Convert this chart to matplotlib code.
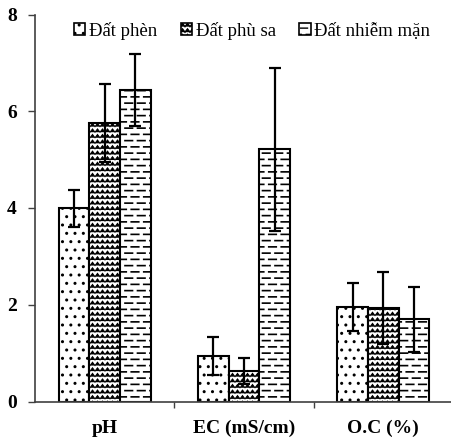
import numpy as np
import matplotlib
matplotlib.use("Agg")
import matplotlib.pyplot as plt
from matplotlib import hatch as mhatch
from matplotlib.path import Path

# ---------------- data ----------------
categories = ["pH", "EC (mS/cm)", "O.C (%)"]
series_names = ["Đất phèn", "Đất phù sa", "Đất nhiễm mặn"]
dat_phen = [3.99, 0.94, 1.95]
dat_phen_err = [0.38, 0.40, 0.50]
dat_phu_sa = [5.76, 0.63, 1.93]
dat_phu_sa_err = [0.80, 0.26, 0.75]
dat_nhiem_man = [6.44, 5.21, 1.70]
dat_nhiem_man_err = [0.75, 1.68, 0.67]
y_ticks = [0, 2, 4, 6, 8]


# ---------------- custom hatches ----------------
class ZigZagHatch(mhatch.HatchPatternBase):
    def __init__(self, hatch, density):
        self.num_rows = int(hatch.count('o') * density * 3)
        self.n_teeth = 20
        self.num_vertices = self.num_rows * (2 * self.n_teeth + 1) if self.num_rows else 0

    def set_vertices_and_codes(self, vertices, codes):
        npts = 2 * self.n_teeth + 1
        xs = np.linspace(0.0, 1.0, npts)
        amp = 0.3 / self.num_rows
        k = 0
        for r in range(self.num_rows):
            y0 = (r + 0.5) / self.num_rows
            ys = y0 + np.where(np.arange(npts) % 2 == 0, -amp, amp)
            vertices[k:k + npts, 0] = xs
            vertices[k:k + npts, 1] = ys
            codes[k] = Path.MOVETO
            codes[k + 1:k + npts] = Path.LINETO
            k += npts


class DashHatch(mhatch.HatchPatternBase):
    def __init__(self, hatch, density):
        self.num_rows = int(hatch.count('-') * density * 2.7)
        self.n_dash = 8
        self.num_vertices = self.num_rows * (self.n_dash + 1) * 2 if self.num_rows else 0

    def set_vertices_and_codes(self, vertices, codes):
        per = 1.0 / self.n_dash
        L = per * 0.6
        k = 0
        for r in range(self.num_rows):
            y = (r + 0.5) / self.num_rows
            off = 0.0 if r % 2 == 0 else per / 2
            for d in range(self.n_dash + 1):
                x0 = off + d * per - per / 2
                x1 = x0 + L
                vertices[k] = (max(x0, 0.0), y)
                vertices[k + 1] = (min(max(x1, 0.0), 1.0), y)
                codes[k] = Path.MOVETO
                codes[k + 1] = Path.LINETO
                k += 2


mhatch._hatch_types = [mhatch.SmallFilledCircles, DashHatch, ZigZagHatch]

plt.rcParams['font.family'] = ['Liberation Serif', 'DejaVu Serif']
plt.rcParams['hatch.color'] = 'black'

fig = plt.figure(figsize=(4.51, 4.38), dpi=100)
ax = fig.add_axes([35 / 451, (438 - 401.5) / 438, 418 / 451, 387 / 438])

x = np.arange(len(categories))
w = 0.22
values = [dat_phen, dat_phu_sa, dat_nhiem_man]
errors = [dat_phen_err, dat_phu_sa_err, dat_nhiem_man_err]
hatches = ['..', 'o', '-']
hatch_lws = [1.0, 0.7, 1.2]
offsets = [-w, 0, w]

for vals, errs, h, hlw, off, name in zip(values, errors, hatches, hatch_lws,
                                         offsets, series_names):
    with plt.rc_context({'hatch.linewidth': hlw}):
        bars = ax.bar(x + off, vals, width=w, color='white', edgecolor='black',
                      linewidth=1.5, hatch=h, label=name, zorder=2)
    for b in bars:
        if hasattr(b, 'set_hatch_linewidth'):
            b.set_hatch_linewidth(hlw)
    ax.errorbar(x + off, vals, yerr=errs, fmt='none', ecolor='black',
                elinewidth=1.6, capsize=4, capthick=1.6, zorder=3)

ax.set_xlim(-0.5, 2.5)
ax.set_ylim(0, 8)
ax.set_yticks(y_ticks)
ax.set_yticklabels([str(t) for t in y_ticks], fontsize=14, fontweight='bold')
ax.set_xticks(x)
ax.set_xticklabels(categories, fontsize=14, fontweight='bold')
ax.set_xticks([0.5, 1.5], minor=True)
ax.tick_params(axis='x', which='major', length=0, pad=13)
ax.tick_params(axis='x', which='minor', length=4, width=1, color='#404040')
ax.tick_params(axis='y', length=5, width=1, color='#404040', pad=8)

for s in ['top', 'right']:
    ax.spines[s].set_visible(False)
for s in ['left', 'bottom']:
    ax.spines[s].set_color('#404040')
    ax.spines[s].set_linewidth(1.2)

leg = ax.legend(loc='upper center', bbox_to_anchor=(0.52, 1.0), ncol=3,
                frameon=False, fontsize=13.5, handlelength=0.6, handleheight=0.6,
                handletextpad=0.2, columnspacing=1.25, borderaxespad=0)
for hdl in leg.legend_handles:
    hdl.set_linewidth(1.2)

fig.savefig('out.png', dpi=100)
